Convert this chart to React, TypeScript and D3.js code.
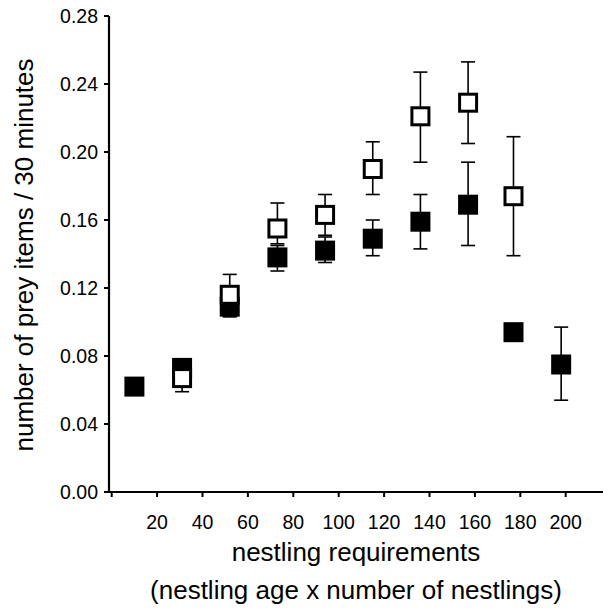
import React from "react";
import * as d3 from "d3";

const xTicks = [0, 20, 40, 60, 80, 100, 120, 140, 160, 180, 200];
const xTickLabels = ["", "20", "40", "60", "80", "100", "120", "140", "160", "180", "200"];
const yTicks = [0, 0.04, 0.08, 0.12, 0.16, 0.2, 0.24, 0.28];

const filledX = [10, 31, 52, 73, 94, 115, 136, 157, 177, 198];
const filledMean = [0.062, 0.073, 0.109, 0.138, 0.142, 0.149, 0.159, 0.169, 0.094, 0.075];
const filledHigh = [0.064, 0.075, 0.112, 0.145, 0.15, 0.16, 0.175, 0.194, 0.096, 0.097];
const filledLow = [0.06, 0.071, 0.103, 0.13, 0.135, 0.139, 0.143, 0.145, 0.092, 0.054];

const openX = [31, 52, 73, 94, 115, 136, 157, 177];
const openMean = [0.067, 0.116, 0.155, 0.163, 0.19, 0.221, 0.229, 0.174];
const openHigh = [0.07, 0.128, 0.17, 0.175, 0.206, 0.247, 0.253, 0.209];
const openLow = [0.059, 0.11, 0.146, 0.151, 0.175, 0.194, 0.205, 0.139];

const W = 604;
const H = 611;
const FONT = "'Liberation Sans', Arial, sans-serif";

export default function App() {
  const x = d3.scaleLinear().domain([0, 200]).range([111.7, 565.7]);
  const y = d3.scaleLinear().domain([0, 0.28]).range([492, 16]);
  const axisX0 = 109;
  const axisY0 = 492;
  const sq = 20;
  const cap = 7;

  const errBars = (xs: number[], hi: number[], lo: number[], key: string) =>
    xs.map((v, i) => (
      <g key={key + i} stroke="#000" strokeWidth={1.6}>
        <line x1={x(v)} x2={x(v)} y1={y(hi[i])} y2={y(lo[i])} />
        <line x1={x(v) - cap} x2={x(v) + cap} y1={y(hi[i])} y2={y(hi[i])} />
        <line x1={x(v) - cap} x2={x(v) + cap} y1={y(lo[i])} y2={y(lo[i])} />
      </g>
    ));

  return (
    <svg
      width={W}
      height={H}
      style={{ position: "absolute", left: 0, top: 0, background: "#fff" }}
      fontFamily={FONT}
    >
      <rect x={0} y={0} width={W} height={H} fill="#fff" />
      {/* axes */}
      <line x1={axisX0} x2={axisX0} y1={y(0.28)} y2={axisY0 + 1} stroke="#000" strokeWidth={2.2} />
      <line x1={axisX0 - 1} x2={603} y1={axisY0} y2={axisY0} stroke="#000" strokeWidth={2.2} />
      {yTicks.map((t) => (
        <g key={"yt" + t}>
          <line x1={axisX0 - 5} x2={axisX0} y1={y(t)} y2={y(t)} stroke="#000" strokeWidth={2} />
          <text x={98} y={y(t)} dy="0.36em" textAnchor="end" fontSize={19.5} fill="#000">
            {t.toFixed(2)}
          </text>
        </g>
      ))}
      {xTicks.map((t, i) => (
        <g key={"xt" + t}>
          <line x1={x(t)} x2={x(t)} y1={axisY0} y2={axisY0 + 5} stroke="#000" strokeWidth={2} />
          <text x={x(t)} y={529} textAnchor="middle" fontSize={19.5} fill="#000">
            {xTickLabels[i]}
          </text>
        </g>
      ))}
      {/* filled series */}
      {errBars(filledX, filledHigh, filledLow, "fe")}
      {filledX.map((v, i) => (
        <rect key={"fs" + i} x={x(v) - sq / 2} y={y(filledMean[i]) - sq / 2} width={sq} height={sq} fill="#000" />
      ))}
      {/* open series */}
      {errBars(openX, openHigh, openLow, "oe")}
      {openX.map((v, i) => (
        <rect
          key={"os" + i}
          x={x(v) - sq / 2 + 1.5}
          y={y(openMean[i]) - sq / 2 + 1.5}
          width={sq - 3}
          height={sq - 3}
          fill="#fff"
          stroke="#000"
          strokeWidth={3}
        />
      ))}
      {/* titles */}
      <text
        transform={`translate(33, 255) rotate(-90)`}
        textAnchor="middle"
        fontSize={26}
        fill="#000"
      >
        number of prey items / 30 minutes
      </text>
      <text x={356} y={561} textAnchor="middle" fontSize={26} fill="#000">
        nestling requirements
      </text>
      <text x={356} y={599} textAnchor="middle" fontSize={26} fill="#000">
        (nestling age x number of nestlings)
      </text>
    </svg>
  );
}
